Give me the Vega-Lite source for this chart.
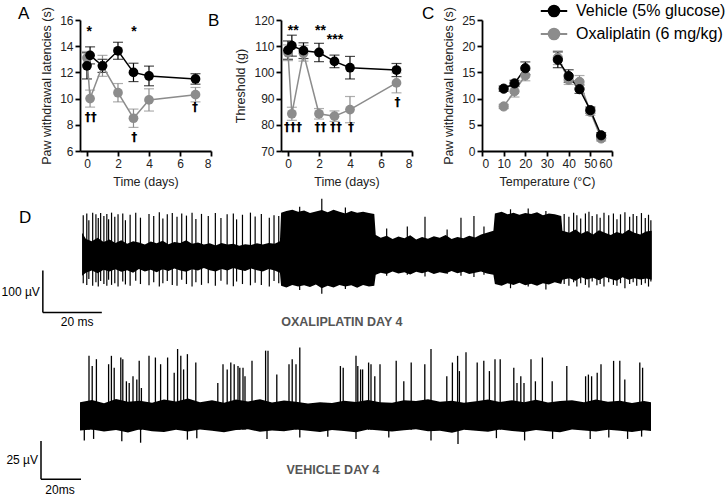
{
 "$schema": "https://vega.github.io/schema/vega-lite/v6.json",
 "padding": {"left": 1, "top": 3, "right": 0, "bottom": 0},
 "background": "white",
 "config": {
  "font": "Liberation Sans",
  "view": {"stroke": null},
  "axis": {"domainColor": "#000000", "domainWidth": 1.8, "tickColor": "#000000", "tickWidth": 1.8, "tickSize": 5, "labelFontSize": 12, "labelColor": "#222222", "titleFontSize": 12.5, "titleFontWeight": "normal", "titleColor": "#222222", "grid": false, "labelPadding": 2, "titlePadding": 6, "labelFont": "Liberation Sans", "titleFont": "Liberation Sans"},
  "title": {"fontSize": 17, "fontWeight": "normal", "anchor": "start", "frame": "group", "color": "#000000", "font": "Liberation Sans", "offset": 4}
 },
 "datasets": {
  "panelA": [
   {"group": "Oxaliplatin (6 mg/kg)", "day": 0, "mean": 13.1, "sem": 0.5},
   {"group": "Oxaliplatin (6 mg/kg)", "day": 0.2, "mean": 10.0, "sem": 0.65},
   {"group": "Oxaliplatin (6 mg/kg)", "day": 1, "mean": 12.5, "sem": 0.8},
   {"group": "Oxaliplatin (6 mg/kg)", "day": 2, "mean": 10.45, "sem": 0.7},
   {"group": "Oxaliplatin (6 mg/kg)", "day": 3, "mean": 8.5, "sem": 0.7},
   {"group": "Oxaliplatin (6 mg/kg)", "day": 4, "mean": 9.9, "sem": 0.85},
   {"group": "Oxaliplatin (6 mg/kg)", "day": 7, "mean": 10.3, "sem": 0.55},
   {"group": "Vehicle (5% glucose)", "day": 0, "mean": 12.5, "sem": 1.0},
   {"group": "Vehicle (5% glucose)", "day": 0.2, "mean": 13.3, "sem": 0.65},
   {"group": "Vehicle (5% glucose)", "day": 1, "mean": 12.5, "sem": 0.5},
   {"group": "Vehicle (5% glucose)", "day": 2, "mean": 13.65, "sem": 0.65},
   {"group": "Vehicle (5% glucose)", "day": 3, "mean": 12.0, "sem": 0.7},
   {"group": "Vehicle (5% glucose)", "day": 4, "mean": 11.73, "sem": 0.75},
   {"group": "Vehicle (5% glucose)", "day": 7, "mean": 11.5, "sem": 0.4}
  ],
  "annA": [
   {"day": 0.15, "at": 15.1, "label": "*", "kind": "star"},
   {"day": 3.03, "at": 15.1, "label": "*", "kind": "star"},
   {"day": 0.24, "at": 8.6, "label": "††", "kind": "dagger"},
   {"day": 3.05, "at": 7.1, "label": "†", "kind": "dagger"},
   {"day": 6.97, "at": 9.35, "label": "†", "kind": "dagger"}
  ],
  "panelB": [
   {"group": "Oxaliplatin (6 mg/kg)", "day": 0, "mean": 107.5, "sem": 3},
   {"group": "Oxaliplatin (6 mg/kg)", "day": 0.25, "mean": 84.2, "sem": 2.5},
   {"group": "Oxaliplatin (6 mg/kg)", "day": 1, "mean": 107.3, "sem": 3},
   {"group": "Oxaliplatin (6 mg/kg)", "day": 2, "mean": 84.2, "sem": 2},
   {"group": "Oxaliplatin (6 mg/kg)", "day": 3, "mean": 83.3, "sem": 2},
   {"group": "Oxaliplatin (6 mg/kg)", "day": 4, "mean": 85.8, "sem": 5},
   {"group": "Oxaliplatin (6 mg/kg)", "day": 7, "mean": 96, "sem": 3.8},
   {"group": "Vehicle (5% glucose)", "day": 0, "mean": 108.5, "sem": 3.5},
   {"group": "Vehicle (5% glucose)", "day": 0.25, "mean": 110.2, "sem": 4},
   {"group": "Vehicle (5% glucose)", "day": 1, "mean": 108.3, "sem": 3},
   {"group": "Vehicle (5% glucose)", "day": 2, "mean": 107.6, "sem": 3.5},
   {"group": "Vehicle (5% glucose)", "day": 3, "mean": 104.2, "sem": 2.4},
   {"group": "Vehicle (5% glucose)", "day": 4, "mean": 101.8, "sem": 4.3},
   {"group": "Vehicle (5% glucose)", "day": 7, "mean": 100.9, "sem": 2.5}
  ],
  "annB": [
   {"day": 0.34, "at": 115.7, "label": "**", "kind": "star"},
   {"day": 2.1, "at": 115.7, "label": "**", "kind": "star"},
   {"day": 3.03, "at": 112.5, "label": "***", "kind": "star"},
   {"day": 0.33, "at": 79.2, "label": "†††", "kind": "dagger"},
   {"day": 2.1, "at": 79.2, "label": "††", "kind": "dagger"},
   {"day": 3.1, "at": 79.2, "label": "††", "kind": "dagger"},
   {"day": 4.06, "at": 79.2, "label": "†", "kind": "dagger"},
   {"day": 7.07, "at": 88.7, "label": "†", "kind": "dagger"}
  ],
  "panelC": [
   {"group": "Oxaliplatin (6 mg/kg)", "temp": 10, "mean": 8.5, "sem": 0.4, "seg": "cold"},
   {"group": "Oxaliplatin (6 mg/kg)", "temp": 15, "mean": 11.4, "sem": 1.1, "seg": "cold"},
   {"group": "Oxaliplatin (6 mg/kg)", "temp": 20, "mean": 14.4, "sem": 1.0, "seg": "cold"},
   {"group": "Oxaliplatin (6 mg/kg)", "temp": 35, "mean": 17.8, "sem": 1.3, "seg": "hot"},
   {"group": "Oxaliplatin (6 mg/kg)", "temp": 40, "mean": 13.6, "sem": 0.9, "seg": "hot"},
   {"group": "Oxaliplatin (6 mg/kg)", "temp": 45, "mean": 13.2, "sem": 1.2, "seg": "hot"},
   {"group": "Oxaliplatin (6 mg/kg)", "temp": 50, "mean": 7.5, "sem": 0.7, "seg": "hot"},
   {"group": "Oxaliplatin (6 mg/kg)", "temp": 55, "mean": 2.4, "sem": 0.5, "seg": "hot"},
   {"group": "Vehicle (5% glucose)", "temp": 10, "mean": 11.9, "sem": 0.5, "seg": "cold"},
   {"group": "Vehicle (5% glucose)", "temp": 15, "mean": 12.9, "sem": 0.6, "seg": "cold"},
   {"group": "Vehicle (5% glucose)", "temp": 20, "mean": 15.8, "sem": 1.2, "seg": "cold"},
   {"group": "Vehicle (5% glucose)", "temp": 35, "mean": 17.4, "sem": 1.5, "seg": "hot"},
   {"group": "Vehicle (5% glucose)", "temp": 40, "mean": 14.3, "sem": 1.2, "seg": "hot"},
   {"group": "Vehicle (5% glucose)", "temp": 45, "mean": 11.8, "sem": 0.8, "seg": "hot"},
   {"group": "Vehicle (5% glucose)", "temp": 50, "mean": 7.8, "sem": 0.6, "seg": "hot"},
   {"group": "Vehicle (5% glucose)", "temp": 55, "mean": 3.0, "sem": 0.5, "seg": "hot"}
  ],
  "topBand": [
   {"t": 0.7, "lo": -62, "hi": 40}, {"t": 2, "lo": -55, "hi": 25}, {"t": 4, "lo": -50, "hi": 20}, {"t": 6, "lo": -56, "hi": 28},
   {"t": 8, "lo": -48, "hi": 18}, {"t": 10, "lo": -52, "hi": 24}, {"t": 12, "lo": -47, "hi": 16}, {"t": 14, "lo": -53, "hi": 22},
   {"t": 16, "lo": -49, "hi": 14}, {"t": 18, "lo": -55, "hi": 20}, {"t": 20, "lo": -46, "hi": 17}, {"t": 22, "lo": -52, "hi": 12},
   {"t": 24, "lo": -48, "hi": 19}, {"t": 26, "lo": -54, "hi": 15}, {"t": 28, "lo": -47, "hi": 21}, {"t": 30, "lo": -51, "hi": 13},
   {"t": 32, "lo": -45, "hi": 18}, {"t": 34, "lo": -50, "hi": 16}, {"t": 36, "lo": -53, "hi": 22}, {"t": 38, "lo": -47, "hi": 14},
   {"t": 40, "lo": -50, "hi": 17}, {"t": 42, "lo": -44, "hi": 12}, {"t": 44, "lo": -49, "hi": 15}, {"t": 46, "lo": -52, "hi": 10},
   {"t": 48, "lo": -46, "hi": 16}, {"t": 50, "lo": -50, "hi": 12}, {"t": 52, "lo": -44, "hi": 14}, {"t": 54, "lo": -48, "hi": 9},
   {"t": 56, "lo": -51, "hi": 13}, {"t": 58, "lo": -45, "hi": 11}, {"t": 60, "lo": -49, "hi": 15}, {"t": 62, "lo": -52, "hi": 12},
   {"t": 64, "lo": -46, "hi": 16}, {"t": 66, "lo": -50, "hi": 14}, {"t": 67.8, "lo": -55, "hi": 20},
   {"t": 68.2, "lo": -86, "hi": 88}, {"t": 70, "lo": -90, "hi": 92}, {"t": 72, "lo": -84, "hi": 95}, {"t": 74, "lo": -88, "hi": 90},
   {"t": 76, "lo": -85, "hi": 93}, {"t": 78, "lo": -89, "hi": 87}, {"t": 80, "lo": -83, "hi": 91}, {"t": 82, "lo": -92, "hi": 94},
   {"t": 84, "lo": -86, "hi": 89}, {"t": 86, "lo": -90, "hi": 95}, {"t": 88, "lo": -84, "hi": 90}, {"t": 90, "lo": -88, "hi": 86},
   {"t": 92, "lo": -85, "hi": 92}, {"t": 94, "lo": -91, "hi": 88}, {"t": 96, "lo": -84, "hi": 90}, {"t": 98, "lo": -88, "hi": 87},
   {"t": 99.8, "lo": -86, "hi": 85},
   {"t": 100.3, "lo": -60, "hi": 35}, {"t": 102, "lo": -55, "hi": 28}, {"t": 104, "lo": -58, "hi": 33}, {"t": 106, "lo": -52, "hi": 25},
   {"t": 108, "lo": -57, "hi": 31}, {"t": 110, "lo": -54, "hi": 27}, {"t": 112, "lo": -59, "hi": 34}, {"t": 114, "lo": -53, "hi": 24},
   {"t": 116, "lo": -56, "hi": 30}, {"t": 118, "lo": -52, "hi": 26}, {"t": 120, "lo": -58, "hi": 32}, {"t": 122, "lo": -54, "hi": 28},
   {"t": 124, "lo": -57, "hi": 35}, {"t": 126, "lo": -51, "hi": 25}, {"t": 128, "lo": -56, "hi": 30}, {"t": 130, "lo": -53, "hi": 27},
   {"t": 132, "lo": -58, "hi": 33}, {"t": 134, "lo": -55, "hi": 29}, {"t": 136, "lo": -52, "hi": 36}, {"t": 138, "lo": -57, "hi": 40},
   {"t": 140.2, "lo": -60, "hi": 45},
   {"t": 140.7, "lo": -82, "hi": 86}, {"t": 143, "lo": -86, "hi": 90}, {"t": 145, "lo": -80, "hi": 84}, {"t": 147, "lo": -84, "hi": 88},
   {"t": 149, "lo": -79, "hi": 83}, {"t": 151, "lo": -85, "hi": 87}, {"t": 153, "lo": -81, "hi": 85}, {"t": 155, "lo": -86, "hi": 89},
   {"t": 157, "lo": -80, "hi": 82}, {"t": 159, "lo": -83, "hi": 86}, {"t": 161, "lo": -78, "hi": 84}, {"t": 163.2, "lo": -82, "hi": 80},
   {"t": 163.6, "lo": -72, "hi": 45}, {"t": 166, "lo": -68, "hi": 40}, {"t": 168, "lo": -74, "hi": 48}, {"t": 170, "lo": -66, "hi": 38},
   {"t": 172, "lo": -71, "hi": 44}, {"t": 174, "lo": -67, "hi": 36}, {"t": 176, "lo": -73, "hi": 46}, {"t": 178, "lo": -65, "hi": 40},
   {"t": 180, "lo": -70, "hi": 35}, {"t": 182, "lo": -74, "hi": 42}, {"t": 184, "lo": -66, "hi": 38}, {"t": 186, "lo": -72, "hi": 47},
   {"t": 188, "lo": -68, "hi": 40}, {"t": 190, "lo": -71, "hi": 36}, {"t": 192, "lo": -69, "hi": 43}, {"t": 193.9, "lo": -72, "hi": 45}
  ],
  "topSpikes": [
   {"t": 1.1, "lo": -80, "hi": 82}, {"t": 2.3, "lo": -84, "hi": 86}, {"t": 3.0, "lo": -70, "hi": 70}, {"t": 4.3, "lo": -86, "hi": 88},
   {"t": 5.4, "lo": -78, "hi": 84}, {"t": 6.2, "lo": -88, "hi": 75}, {"t": 7.0, "lo": -75, "hi": 87}, {"t": 8.1, "lo": -82, "hi": 80},
   {"t": 9.1, "lo": -86, "hi": 85}, {"t": 9.7, "lo": -72, "hi": 72}, {"t": 10.7, "lo": -84, "hi": 88}, {"t": 11.8, "lo": -80, "hi": 78},
   {"t": 12.9, "lo": -88, "hi": 84}, {"t": 14.5, "lo": -76, "hi": 86}, {"t": 15.4, "lo": -83, "hi": 70}, {"t": 17.0, "lo": -86, "hi": 83},
   {"t": 18.9, "lo": -74, "hi": 88}, {"t": 20.5, "lo": -82, "hi": 76}, {"t": 23.4, "lo": -85, "hi": 85}, {"t": 25, "lo": -78, "hi": 80},
   {"t": 26.9, "lo": -88, "hi": 89}, {"t": 28.1, "lo": -80, "hi": 74}, {"t": 29.6, "lo": -75, "hi": 84}, {"t": 31.3, "lo": -84, "hi": 87},
   {"t": 32.9, "lo": -86, "hi": 78}, {"t": 34.5, "lo": -72, "hi": 86}, {"t": 36.1, "lo": -82, "hi": 81}, {"t": 38, "lo": -88, "hi": 88},
   {"t": 39.3, "lo": -78, "hi": 73}, {"t": 41.2, "lo": -84, "hi": 85}, {"t": 43.5, "lo": -80, "hi": 80}, {"t": 45.9, "lo": -86, "hi": 87},
   {"t": 47.8, "lo": -74, "hi": 75}, {"t": 49.9, "lo": -83, "hi": 84}, {"t": 52, "lo": -87, "hi": 86}, {"t": 53.1, "lo": -76, "hi": 72},
   {"t": 55.1, "lo": -82, "hi": 83}, {"t": 57.8, "lo": -85, "hi": 88}, {"t": 59.4, "lo": -79, "hi": 79}, {"t": 61.5, "lo": -84, "hi": 85},
   {"t": 64.2, "lo": -88, "hi": 76}, {"t": 65.8, "lo": -75, "hi": 82}, {"t": 67.4, "lo": -80, "hi": 80},
   {"t": 74.5, "lo": -96, "hi": 102}, {"t": 82, "lo": -105, "hi": 121}, {"t": 90, "lo": -94, "hi": 100},
   {"t": 104, "lo": -62, "hi": 50}, {"t": 111, "lo": -60, "hi": 55}, {"t": 117, "lo": -64, "hi": 78}, {"t": 124.5, "lo": -58, "hi": 48},
   {"t": 129.2, "lo": -62, "hi": 76}, {"t": 133.6, "lo": -65, "hi": 80}, {"t": 137, "lo": -60, "hi": 55},
   {"t": 146, "lo": -92, "hi": 96}, {"t": 152, "lo": -88, "hi": 98}, {"t": 158, "lo": -95, "hi": 92},
   {"t": 164.2, "lo": -82, "hi": 85}, {"t": 165.8, "lo": -86, "hi": 78}, {"t": 167.4, "lo": -78, "hi": 88}, {"t": 168.5, "lo": -88, "hi": 82},
   {"t": 169.8, "lo": -80, "hi": 74}, {"t": 171.4, "lo": -84, "hi": 86}, {"t": 172.6, "lo": -90, "hi": 90}, {"t": 173.7, "lo": -76, "hi": 80},
   {"t": 175.3, "lo": -85, "hi": 84}, {"t": 176.4, "lo": -82, "hi": 76}, {"t": 177.7, "lo": -88, "hi": 88}, {"t": 179.3, "lo": -78, "hi": 82},
   {"t": 180.9, "lo": -84, "hi": 86}, {"t": 182.1, "lo": -86, "hi": 72}, {"t": 183.3, "lo": -80, "hi": 84}, {"t": 184.8, "lo": -92, "hi": 89},
   {"t": 186.4, "lo": -82, "hi": 78}, {"t": 187.6, "lo": -78, "hi": 85}, {"t": 188.8, "lo": -86, "hi": 80}, {"t": 190.4, "lo": -84, "hi": 87},
   {"t": 191.7, "lo": -80, "hi": 75}, {"t": 192.8, "lo": -88, "hi": 83}, {"t": 193.6, "lo": -76, "hi": 70}
  ],
  "topBar": [
   {"t": -12.6, "t2": -12.6, "v": -50, "v2": -150},
   {"t": -12.6, "t2": 7.4, "v": -150, "v2": -150}
  ],
  "bottomBand": [
   {"t": 0, "lo": -9.5, "hi": 9}, {"t": 6, "lo": -8.8, "hi": 10.5}, {"t": 12, "lo": -10.2, "hi": 8.4}, {"t": 18, "lo": -9.1, "hi": 11.2},
   {"t": 24, "lo": -10.8, "hi": 9.3}, {"t": 30, "lo": -8.6, "hi": 10.1}, {"t": 36, "lo": -9.9, "hi": 8.7}, {"t": 42, "lo": -10.5, "hi": 10.8},
   {"t": 48, "lo": -9.0, "hi": 9.5}, {"t": 54, "lo": -10.1, "hi": 11.5}, {"t": 60, "lo": -8.9, "hi": 9.0}, {"t": 66, "lo": -9.7, "hi": 10.4},
   {"t": 72, "lo": -10.6, "hi": 8.8}, {"t": 78, "lo": -9.2, "hi": 10.9}, {"t": 84, "lo": -8.7, "hi": 9.6}, {"t": 90, "lo": -10.3, "hi": 11.1},
   {"t": 96, "lo": -9.4, "hi": 8.9}, {"t": 102, "lo": -10.0, "hi": 10.2}, {"t": 108, "lo": -8.8, "hi": 9.4}, {"t": 114, "lo": -9.6, "hi": 8.3},
   {"t": 120, "lo": -10.4, "hi": 9.0}, {"t": 126, "lo": -9.1, "hi": 8.6}, {"t": 132, "lo": -9.8, "hi": 10.0}, {"t": 138, "lo": -10.7, "hi": 9.2},
   {"t": 144, "lo": -8.9, "hi": 10.6}, {"t": 150, "lo": -9.5, "hi": 9.1}, {"t": 156, "lo": -10.2, "hi": 8.7}, {"t": 162, "lo": -9.3, "hi": 10.3},
   {"t": 168, "lo": -8.6, "hi": 9.8}, {"t": 174, "lo": -10.0, "hi": 11.0}, {"t": 180, "lo": -9.7, "hi": 9.3}, {"t": 186, "lo": -10.9, "hi": 10.0},
   {"t": 192, "lo": -9.0, "hi": 8.8}, {"t": 198, "lo": -9.6, "hi": 9.7}, {"t": 204, "lo": -10.3, "hi": 10.9}, {"t": 210, "lo": -8.9, "hi": 9.2},
   {"t": 216, "lo": -9.8, "hi": 10.4}, {"t": 222, "lo": -10.5, "hi": 9.0}, {"t": 228, "lo": -9.2, "hi": 10.7}, {"t": 234, "lo": -9.9, "hi": 8.9},
   {"t": 240, "lo": -10.6, "hi": 9.9}, {"t": 246, "lo": -8.8, "hi": 10.3}, {"t": 252, "lo": -9.4, "hi": 9.1}, {"t": 258, "lo": -10.1, "hi": 10.8},
   {"t": 264, "lo": -9.0, "hi": 9.4}, {"t": 270, "lo": -9.7, "hi": 10.1}, {"t": 276, "lo": -10.4, "hi": 8.6}, {"t": 282, "lo": -9.3, "hi": 9.9},
   {"t": 285.5, "lo": -9.8, "hi": 9.0}
  ],
  "bottomSpikes": [
   {"t": 4.5, "lo": -9, "hi": 39.5}, {"t": 6.1, "lo": -9, "hi": 32.8}, {"t": 8.2, "lo": -9, "hi": 37.3}, {"t": 14.3, "lo": -9, "hi": 34},
   {"t": 15.7, "lo": -9, "hi": 39.5}, {"t": 17.1, "lo": -9, "hi": 31.7}, {"t": 20.4, "lo": -9, "hi": 38.4}, {"t": 21.4, "lo": -9, "hi": 37.3},
   {"t": 23.2, "lo": -9, "hi": 22.8}, {"t": 24.6, "lo": -9, "hi": 21.7}, {"t": 26.5, "lo": -9, "hi": 26.1}, {"t": 28.4, "lo": -9, "hi": 23.9},
   {"t": 29.6, "lo": -9, "hi": 36.2}, {"t": 30.7, "lo": -9, "hi": 18.4}, {"t": 34.5, "lo": -9, "hi": 39.5}, {"t": 37.7, "lo": -9, "hi": 38.4},
   {"t": 40.3, "lo": -9, "hi": 34}, {"t": 43.8, "lo": -9, "hi": 38.4}, {"t": 47.1, "lo": -9, "hi": 28.4}, {"t": 48.8, "lo": -9, "hi": 44},
   {"t": 50.4, "lo": -9, "hi": 39.5}, {"t": 51.8, "lo": -9, "hi": 30.6}, {"t": 53.7, "lo": -9, "hi": 40.6}, {"t": 57.9, "lo": -9, "hi": 35.1},
   {"t": 68.9, "lo": -9, "hi": 21.7}, {"t": 71.5, "lo": -9, "hi": 34}, {"t": 73.6, "lo": -9, "hi": 30.6}, {"t": 75.4, "lo": -9, "hi": 35.1},
   {"t": 77.1, "lo": -9, "hi": 34}, {"t": 79, "lo": -9, "hi": 32.8}, {"t": 79.9, "lo": -9, "hi": 31.7}, {"t": 81.5, "lo": -9, "hi": 31.7},
   {"t": 82.5, "lo": -9, "hi": 26.1}, {"t": 86, "lo": -9, "hi": 36.2}, {"t": 92.8, "lo": -9, "hi": 42.9}, {"t": 94, "lo": -9, "hi": 42.9},
   {"t": 98.4, "lo": -9, "hi": 27.2}, {"t": 104.5, "lo": -9, "hi": 34}, {"t": 106.1, "lo": -9, "hi": 37.3}, {"t": 108, "lo": -9, "hi": 34},
   {"t": 109.9, "lo": -9, "hi": 45}, {"t": 130.2, "lo": -9, "hi": 32.8}, {"t": 131.6, "lo": -9, "hi": 31.7}, {"t": 138, "lo": -9, "hi": 39.5},
   {"t": 138.9, "lo": -9, "hi": 32.8}, {"t": 140.3, "lo": -9, "hi": 30.6}, {"t": 141.3, "lo": -9, "hi": 30.6}, {"t": 144.3, "lo": -9, "hi": 35.1},
   {"t": 145.5, "lo": -9, "hi": 34}, {"t": 147.4, "lo": -9, "hi": 26.1}, {"t": 150, "lo": -9, "hi": 34}, {"t": 158.1, "lo": -9, "hi": 36.2},
   {"t": 161.9, "lo": -9, "hi": 22.8}, {"t": 165.6, "lo": -9, "hi": 35.1}, {"t": 172.4, "lo": -9, "hi": 34}, {"t": 175.5, "lo": -9, "hi": 44},
   {"t": 183.4, "lo": -9, "hi": 26.1}, {"t": 186.2, "lo": -9, "hi": 35.1}, {"t": 188.8, "lo": -9, "hi": 39.5}, {"t": 189.7, "lo": -9, "hi": 29.5},
   {"t": 193, "lo": -9, "hi": 41.8}, {"t": 198.6, "lo": -9, "hi": 35.1}, {"t": 201.9, "lo": -9, "hi": 36.2}, {"t": 204.7, "lo": -9, "hi": 29.5},
   {"t": 207.5, "lo": -9, "hi": 37.3}, {"t": 210.1, "lo": -9, "hi": 37.3}, {"t": 216.9, "lo": -9, "hi": 31.7}, {"t": 218.5, "lo": -9, "hi": 21.7},
   {"t": 220.4, "lo": -9, "hi": 26.1}, {"t": 222, "lo": -9, "hi": 21.7}, {"t": 225.5, "lo": -9, "hi": 37.3}, {"t": 227.7, "lo": -9, "hi": 22.8},
   {"t": 231.2, "lo": -9, "hi": 38.4}, {"t": 236.1, "lo": -9, "hi": 22.8}, {"t": 243.4, "lo": -9, "hi": 32.8}, {"t": 252.8, "lo": -9, "hi": 26.1},
   {"t": 254.2, "lo": -9, "hi": 27.2}, {"t": 255.8, "lo": -9, "hi": 26.1}, {"t": 258.6, "lo": -9, "hi": 28.4}, {"t": 260.5, "lo": -9, "hi": 34},
   {"t": 266.8, "lo": -9, "hi": 36.2}, {"t": 269.9, "lo": -9, "hi": 36.2}, {"t": 272.4, "lo": -9, "hi": 23.9}, {"t": 279.9, "lo": -9, "hi": 35.1},
   {"t": 281.3, "lo": -9, "hi": 31.7},
   {"t": 2.15, "lo": -16, "hi": -8}, {"t": 6.8, "lo": -15, "hi": -8}, {"t": 20.9, "lo": -16.5, "hi": -8}, {"t": 30.3, "lo": -17.5, "hi": -8},
   {"t": 53.7, "lo": -15.5, "hi": -8}, {"t": 58.4, "lo": -14.5, "hi": -8}, {"t": 93.5, "lo": -15, "hi": -8}, {"t": 109.9, "lo": -14, "hi": -8},
   {"t": 123.9, "lo": -13.5, "hi": -8}, {"t": 138, "lo": -15, "hi": -8}, {"t": 154.4, "lo": -14, "hi": -8}, {"t": 175.5, "lo": -16, "hi": -8},
   {"t": 189, "lo": -18.4, "hi": -8}, {"t": 208.2, "lo": -14.5, "hi": -8}, {"t": 222.3, "lo": -16, "hi": -8}, {"t": 236.3, "lo": -15, "hi": -8},
   {"t": 255.1, "lo": -15, "hi": -8}, {"t": 264.4, "lo": -14, "hi": -8}, {"t": 273.8, "lo": -15, "hi": -8}, {"t": 280.8, "lo": -13.5, "hi": -8}
  ],
  "bottomBar": [
   {"t": -19.5, "t2": -19.5, "v": -16.4, "v2": -41.4},
   {"t": -19.5, "t2": 0.5, "v": -41.4, "v2": -41.4}
  ]
 },
 "bounds": "flush",
 "columns": 3,
 "spacing": {"row": 44, "column": 70},
 "resolve": {"scale": {"x": "independent", "y": "independent", "color": "independent", "fill": "shared", "stroke": "shared"}, "legend": {"color": "independent", "fill": "shared", "stroke": "shared"}},
 "concat": [
  {
   "width": 131, "height": 131,
   "title": {"text": "A", "dx": -62, "dy": 20},
   "data": {"name": "panelA"},
   "encoding": {
    "x": {"field": "day", "type": "quantitative", "title": "Time (days)", "scale": {"domain": [-0.45, 8], "nice": false, "zero": false}, "axis": {"values": [0, 2, 4, 6, 8]}},
    "y": {"field": "mean", "type": "quantitative", "title": "Paw withdrawal latencies (s)", "scale": {"domain": [6, 16], "nice": false, "zero": false}, "axis": {"values": [6, 8, 10, 12, 14, 16]}},
    "color": {"field": "group", "type": "nominal", "scale": {"domain": ["Vehicle (5% glucose)", "Oxaliplatin (6 mg/kg)"], "range": ["#000000", "#8c8c8c"]}, "legend": null}
   },
   "layer": [
    {"mark": {"type": "errorbar", "ticks": {"size": 10}, "thickness": 1.2}, "encoding": {"yError": {"field": "sem"}}},
    {"mark": {"type": "line", "strokeWidth": 1.5}},
    {"mark": {"type": "point", "filled": true, "size": 95, "opacity": 1}},
    {"data": {"name": "annA"}, "transform": [{"filter": "datum.kind === 'star'"}], "mark": {"type": "text", "fontSize": 14, "fontWeight": "bold", "baseline": "middle"}, "encoding": {"y": {"field": "at", "type": "quantitative", "title": "Paw withdrawal latencies (s)"}, "text": {"field": "label"}, "color": {"value": "#000000"}}},
    {"data": {"name": "annA"}, "transform": [{"filter": "datum.kind === 'dagger'"}], "mark": {"type": "text", "fontSize": 12, "font": "DejaVu Sans", "fontWeight": "bold", "baseline": "middle"}, "encoding": {"y": {"field": "at", "type": "quantitative", "title": "Paw withdrawal latencies (s)"}, "text": {"field": "label"}, "color": {"value": "#000000"}}}
   ]
  },
  {
   "width": 131, "height": 131,
   "title": {"text": "B", "dx": -73, "dy": 20},
   "data": {"name": "panelB"},
   "encoding": {
    "x": {"field": "day", "type": "quantitative", "title": "Time (days)", "scale": {"domain": [-0.45, 8], "nice": false, "zero": false}, "axis": {"values": [0, 2, 4, 6, 8]}},
    "y": {"field": "mean", "type": "quantitative", "title": "Threshold (g)", "scale": {"domain": [70, 120], "nice": false, "zero": false}, "axis": {"values": [70, 80, 90, 100, 110, 120]}},
    "color": {"field": "group", "type": "nominal", "scale": {"domain": ["Vehicle (5% glucose)", "Oxaliplatin (6 mg/kg)"], "range": ["#000000", "#8c8c8c"]}, "legend": null}
   },
   "layer": [
    {"mark": {"type": "errorbar", "ticks": {"size": 10}, "thickness": 1.2}, "encoding": {"yError": {"field": "sem"}}},
    {"mark": {"type": "line", "strokeWidth": 1.5}},
    {"mark": {"type": "point", "filled": true, "size": 95, "opacity": 1}},
    {"data": {"name": "annB"}, "transform": [{"filter": "datum.kind === 'star'"}], "mark": {"type": "text", "fontSize": 14, "fontWeight": "bold", "baseline": "middle"}, "encoding": {"y": {"field": "at", "type": "quantitative", "title": "Threshold (g)"}, "text": {"field": "label"}, "color": {"value": "#000000"}}},
    {"data": {"name": "annB"}, "transform": [{"filter": "datum.kind === 'dagger'"}], "mark": {"type": "text", "fontSize": 12, "font": "DejaVu Sans", "fontWeight": "bold", "baseline": "middle"}, "encoding": {"y": {"field": "at", "type": "quantitative", "title": "Threshold (g)"}, "text": {"field": "label"}, "color": {"value": "#000000"}}}
   ]
  },
  {
   "width": 130, "height": 131,
   "title": {"text": "C", "dx": -60, "dy": 20},
   "data": {"name": "panelC"},
   "encoding": {
    "x": {"field": "temp", "type": "quantitative", "title": "Temperature (°C)", "scale": {"domain": [0, 60], "nice": false, "zero": false}, "axis": {"values": [0, 10, 20, 30, 40, 50, 60]}},
    "y": {"field": "mean", "type": "quantitative", "title": "Paw withdrawal latencies (s)", "scale": {"domain": [0, 25], "nice": false, "zero": false}, "axis": {"values": [0, 5, 10, 15, 20, 25]}}
   },
   "layer": [
    {"mark": {"type": "errorbar", "ticks": {"size": 10}, "thickness": 1.2}, "encoding": {"yError": {"field": "sem"}, "color": {"field": "group", "type": "nominal", "scale": {"domain": ["Vehicle (5% glucose)", "Oxaliplatin (6 mg/kg)"], "range": ["#000000", "#8c8c8c"]}, "legend": null}}},
    {"mark": {"type": "line", "strokeWidth": 1.5}, "encoding": {"detail": {"field": "seg"}, "color": {"field": "group", "type": "nominal", "legend": null}}},
    {"mark": {"type": "point", "filled": true, "size": 85, "opacity": 1, "strokeWidth": 1}, "encoding": {
     "fill": {"field": "group", "type": "nominal", "scale": {"domain": ["Vehicle (5% glucose)", "Oxaliplatin (6 mg/kg)"], "range": ["#000000", "#8c8c8c"]}, "legend": {
      "orient": "none", "legendX": 466, "legendY": -17, "title": null,
      "labelFontSize": 16, "labelColor": "#000000", "labelFont": "Liberation Sans", "labelOffset": 14,
      "symbolType": "M-2.5,0L2.5,0M1,0A1,1 0 1,1 -1,0A1,1 0 1,1 1,0", "symbolSize": 112, "symbolStrokeWidth": 2, "symbolOpacity": 1, "rowPadding": 3}},
     "stroke": {"field": "group", "type": "nominal", "scale": {"domain": ["Vehicle (5% glucose)", "Oxaliplatin (6 mg/kg)"], "range": ["#000000", "#8c8c8c"]}, "legend": {
      "orient": "none", "legendX": 466, "legendY": -17, "title": null,
      "labelFontSize": 16, "labelColor": "#000000", "labelFont": "Liberation Sans", "labelOffset": 14,
      "symbolType": "M-2.5,0L2.5,0M1,0A1,1 0 1,1 -1,0A1,1 0 1,1 1,0", "symbolSize": 112, "symbolStrokeWidth": 2, "symbolOpacity": 1, "rowPadding": 3}}
    }}
   ]
  },
  {
   "width": 131, "height": 302,
   "resolve": {"scale": {"x": "independent", "y": "independent"}},
   "layer": [
    {
     "layer": [
      {"data": {"name": "topBand"}, "mark": {"type": "area", "color": "#000000", "opacity": 1}, "encoding": {"x": {"field": "t", "type": "quantitative", "scale": {"domain": [0, 195], "range": [0, 575], "nice": false, "zero": false}, "axis": null}, "y": {"field": "lo", "type": "quantitative", "scale": {"domain": [-589, 130], "nice": false, "zero": false}, "axis": null}, "y2": {"field": "hi"}}},
      {"data": {"name": "topSpikes"}, "mark": {"type": "rule", "color": "#000000", "strokeWidth": 1.2}, "encoding": {"x": {"field": "t", "type": "quantitative"}, "y": {"field": "lo", "type": "quantitative"}, "y2": {"field": "hi"}}},
      {"data": {"name": "topBar"}, "mark": {"type": "rule", "color": "#000000", "strokeWidth": 1.5}, "encoding": {"x": {"field": "t", "type": "quantitative"}, "x2": {"field": "t2"}, "y": {"field": "v", "type": "quantitative"}, "y2": {"field": "v2"}}},
      {"data": {"values": [{"label": "D"}]}, "mark": {"type": "text", "align": "center", "baseline": "middle", "fontSize": 17, "color": "#000000"}, "encoding": {"x": {"datum": -18.6}, "y": {"datum": 75}, "text": {"field": "label"}}},
      {"data": {"values": [{"label": "100 µV"}]}, "mark": {"type": "text", "align": "right", "baseline": "middle", "dx": -3, "fontSize": 12, "color": "#000000"}, "encoding": {"x": {"datum": -12.6}, "y": {"datum": -100}, "text": {"field": "label"}}},
      {"data": {"values": [{"label": "20 ms"}]}, "mark": {"type": "text", "align": "center", "baseline": "middle", "dy": 9, "fontSize": 12, "color": "#000000"}, "encoding": {"x": {"datum": -1}, "y": {"datum": -150}, "text": {"field": "label"}}},
      {"data": {"values": [{"label": "OXALIPLATIN DAY 4"}]}, "mark": {"type": "text", "align": "center", "baseline": "middle", "fontSize": 12.5, "fontWeight": "bold", "color": "#555555"}, "encoding": {"x": {"datum": 88.8}, "y": {"datum": -172}, "text": {"field": "label"}}}
     ]
    },
    {
     "layer": [
      {"data": {"name": "bottomBand"}, "mark": {"type": "area", "color": "#000000", "opacity": 1}, "encoding": {"x": {"field": "t", "type": "quantitative", "scale": {"domain": [0, 287.5], "range": [0, 575], "nice": false, "zero": false}, "axis": null}, "y": {"field": "lo", "type": "quantitative", "scale": {"domain": [-53.1, 145], "nice": false, "zero": false}, "axis": null}, "y2": {"field": "hi"}}},
      {"data": {"name": "bottomSpikes"}, "mark": {"type": "rule", "color": "#000000", "strokeWidth": 1.3}, "encoding": {"x": {"field": "t", "type": "quantitative"}, "y": {"field": "lo", "type": "quantitative"}, "y2": {"field": "hi"}}},
      {"data": {"name": "bottomBar"}, "mark": {"type": "rule", "color": "#000000", "strokeWidth": 1.5}, "encoding": {"x": {"field": "t", "type": "quantitative"}, "x2": {"field": "t2"}, "y": {"field": "v", "type": "quantitative"}, "y2": {"field": "v2"}}},
      {"data": {"values": [{"label": "25 µV"}]}, "mark": {"type": "text", "align": "right", "baseline": "middle", "dx": -3, "fontSize": 12, "color": "#000000"}, "encoding": {"x": {"datum": -19.5}, "y": {"datum": -29}, "text": {"field": "label"}}},
      {"data": {"values": [{"label": "20ms"}]}, "mark": {"type": "text", "align": "center", "baseline": "middle", "dy": 11, "fontSize": 12, "color": "#000000"}, "encoding": {"x": {"datum": -10}, "y": {"datum": -41.4}, "text": {"field": "label"}}},
      {"data": {"values": [{"label": "VEHICLE DAY 4"}]}, "mark": {"type": "text", "align": "center", "baseline": "middle", "fontSize": 12.5, "fontWeight": "bold", "color": "#555555"}, "encoding": {"x": {"datum": 126.5}, "y": {"datum": -35.4}, "text": {"field": "label"}}}
     ]
    }
   ]
  }
 ]
}
